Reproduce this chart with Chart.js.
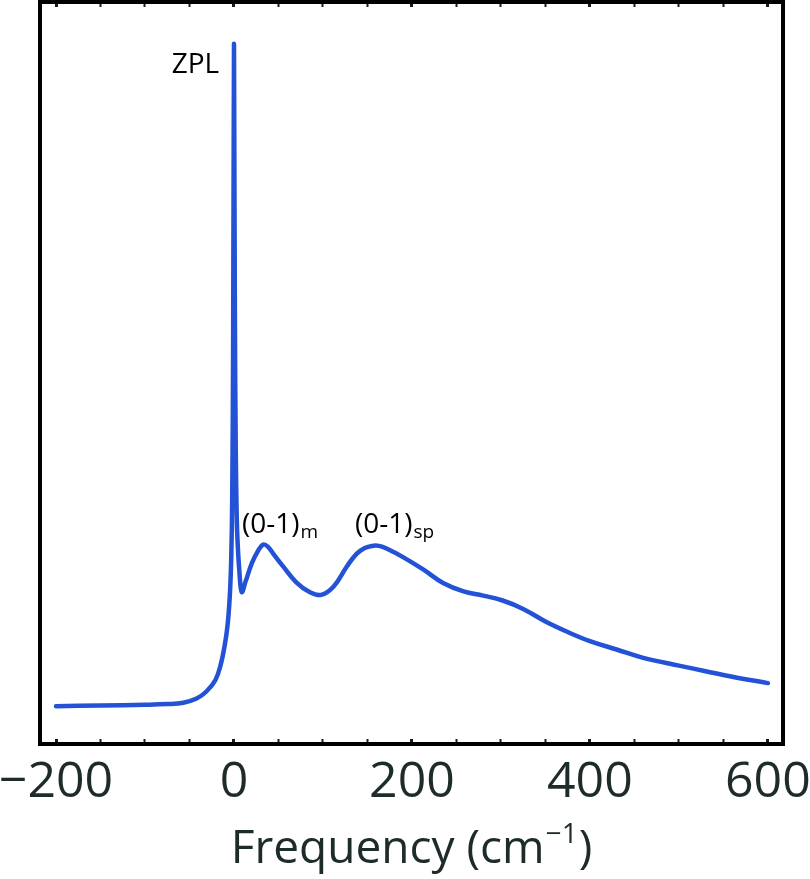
<!DOCTYPE html>
<html>
<head>
<meta charset="utf-8">
<script src="https://cdn.jsdelivr.net/npm/chart.js@4.4.1/dist/chart.umd.min.js"></script>
<style>
html,body{margin:0;padding:0;background:#fff;}
#wrap{width:810px;height:879px;position:relative;}
</style>
</head>
<body>
<div id="wrap"><canvas id="c"></canvas></div>
<script>
// Frequency in cm^-1
const frequency = [-200,-150,-100,-75,-57,-42,-31,-21,-15,-10,-7,-5,-4,-3,-2,-1,0,1,2,3,4,6,8.7,13,20,27,33,38,44,55,70,85,98,112,127,138,147,155,163,172,190,213,235,258,280,302,325,350,375,400,430,460,500,530,560,600];
// Intensity (arbitrary units)
const intensity = [0.054,0.055,0.056,0.057,0.059,0.065,0.075,0.091,0.113,0.144,0.172,0.205,0.23,0.27,0.35,0.56,1.0,0.62,0.42,0.33,0.29,0.248,0.217,0.232,0.258,0.276,0.285,0.282,0.272,0.254,0.231,0.217,0.213,0.225,0.254,0.272,0.280,0.283,0.283,0.279,0.267,0.249,0.230,0.218,0.212,0.205,0.193,0.175,0.160,0.147,0.135,0.123,0.112,0.104,0.096,0.087];
// Labelled tick values on the frequency axis
const majorTicks = [-200, 0, 200, 400, 600];
// Peak annotations
const peakLabels = ['ZPL', '(0-1)', '(0-1)'];
const peakSubscripts = ['', 'm', 'sp'];
const peakLabelX = [-70, 9, 136];
const peakLabelY = [0.959, 0.301, 0.301];

const points = frequency.map((f, i) => ({x: f, y: intensity[i]}));
const fmt = v => (v < 0 ? '\u2212' + Math.abs(v) : String(v));
const isMajor = v => majorTicks.includes(Math.round(v));

const tickGrid = {
  drawOnChartArea: false,
  drawTicks: true,
  tickLength: -5,
  tickColor: '#1a1a1a',
  tickWidth: c => (c.tick && isMajor(c.tick.value) ? 3 : 2)
};

const framePlugin = {
  id: 'frame',
  afterDraw(chart) {
    const {ctx, chartArea: a} = chart;
    ctx.save();
    ctx.lineWidth = 4;
    ctx.strokeStyle = '#000';
    ctx.strokeRect(a.left, a.top, a.right - a.left, a.bottom - a.top);
    // axis title with superscript
    const xs = chart.scales.x;
    const cx = (a.left + a.right) / 2;
    const base = xs.bottom - 16;
    const mainFont = '46px "Open Sans"';
    const supFont = '28px "Open Sans"';
    ctx.fillStyle = '#1e2b2b';
    ctx.textBaseline = 'alphabetic';
    ctx.font = mainFont;
    const t1 = 'Frequency (cm', t3 = ')';
    const w1 = ctx.measureText(t1).width, w3 = ctx.measureText(t3).width;
    ctx.font = supFont;
    const t2 = '\u22121';
    const w2 = ctx.measureText(t2).width;
    let x0 = cx - (w1 + w2 + w3 + 2) / 2;
    ctx.font = mainFont;
    ctx.textAlign = 'left';
    ctx.fillText(t1, x0, base);
    ctx.font = supFont;
    ctx.fillText(t2, x0 + w1 + 1, base - 20);
    ctx.font = mainFont;
    ctx.fillText(t3, x0 + w1 + w2 + 2, base);
    ctx.restore();
  },
  afterDatasetsDraw(chart) {
    const {ctx} = chart;
    const xs = chart.scales.x, ys = chart.scales.y;
    ctx.save();
    ctx.fillStyle = '#000';
    ctx.textAlign = 'left';
    ctx.textBaseline = 'alphabetic';
    peakLabels.forEach((txt, i) => {
      const px = xs.getPixelForValue(peakLabelX[i]);
      const py = ys.getPixelForValue(peakLabelY[i]);
      ctx.font = '28px "Open Sans"';
      ctx.fillText(txt, px, py);
      const w = ctx.measureText(txt).width;
      if (peakSubscripts[i]) {
        ctx.font = '19px "Open Sans"';
        ctx.fillText(peakSubscripts[i], px + w + 1, py + 5);
      }
    });
    ctx.restore();
  }
};

new Chart(document.getElementById('c'), {
  type: 'line',
  data: {
    datasets: [{
      data: points,
      borderColor: '#2352d6',
      borderWidth: 4.5,
      pointRadius: 0,
      fill: false,
      tension: 0.4,
      borderJoinStyle: 'round',
      borderCapStyle: 'round'
    }]
  },
  options: {
    responsive: true,
    maintainAspectRatio: false,
    animation: false,
    layout: {padding: {left: 40, right: 27, top: 2, bottom: 0}},
    plugins: {legend: {display: false}, tooltip: {enabled: false}},
    scales: {
      x: {
        type: 'linear', position: 'bottom', min: -218, max: 617,
        ticks: {
          stepSize: 50, includeBounds: false, autoSkip: false,
          maxRotation: 0, minRotation: 0, padding: 14,
          color: '#1e2b2b', font: {size: 50, family: 'Open Sans'},
          callback: v => (isMajor(v) ? fmt(Math.round(v)) : '')
        },
        grid: tickGrid,
        border: {display: false},
        afterFit: s => { s.height = 135; s.paddingLeft = 0; s.paddingRight = 0; }
      },
      x2: {
        type: 'linear', position: 'top', min: -218, max: 617,
        ticks: {display: false, stepSize: 50, includeBounds: false, autoSkip: false, maxRotation: 0, minRotation: 0},
        grid: tickGrid,
        border: {display: false},
        afterFit: s => { s.height = 0; s.paddingLeft = 0; s.paddingRight = 0; }
      },
      y: {display: false, min: 0, max: 1.06}
    }
  },
  plugins: [framePlugin]
});
</script>
</body>
</html>
